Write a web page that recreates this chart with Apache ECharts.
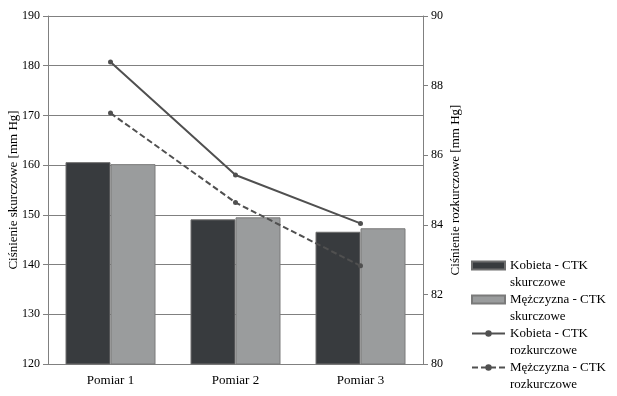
<!DOCTYPE html>
<html><head><meta charset="utf-8">
<script src="https://cdn.jsdelivr.net/npm/echarts@6/dist/echarts.min.js"></script>
<style>html,body{margin:0;padding:0;background:#fff}#c{width:617px;height:396px}</style>
</head><body><div id="c"></div>
<script>
const categories = ['Pomiar 1', 'Pomiar 2', 'Pomiar 3'];
const kobietaSkurcz = [160.6, 149.1, 146.6];
const mezczyznaSkurcz = [160.2, 149.5, 147.3];
const kobietaRozkurcz = [88.68, 85.43, 84.04];
const mezczyznaRozkurcz = [87.21, 84.64, 82.82];
const leftTicks = [120, 190, 10];
const rightTicks = [80, 90, 2];
const names = ['Kobieta - CTK\nskurczowe', 'Mężczyzna - CTK\nskurczowe', 'Kobieta - CTK\nrozkurczowe', 'Mężczyzna - CTK\nrozkurczowe'];

const F = 'Liberation Serif';
const chart = echarts.init(document.getElementById('c'), null, {renderer: 'canvas'});
chart.setOption({
  animation: false,
  textStyle: {fontFamily: F},
  grid: {left: 48, right: 194, top: 16, bottom: 32, containLabel: false, outerBoundsMode: 'none'},
  legend: {
    orient: 'vertical', left: 471, top: 240, padding: 0, itemWidth: 33, itemHeight: 8, itemGap: -17,
    formatter: n => '\n' + n,
    textStyle: {fontFamily: F, fontSize: 13, color: '#000', lineHeight: 17},
    data: [
      {name: names[0], icon: 'rect'}, {name: names[1], icon: 'rect'},
      {name: names[2]}, {name: names[3]}
    ]
  },
  xAxis: {
    type: 'category', data: categories,
    axisLine: {lineStyle: {color: '#808080'}},
    axisTick: {length: 5, lineStyle: {color: '#808080'}},
    axisLabel: {color: '#000', fontSize: 13, fontFamily: F, margin: 10}
  },
  yAxis: [{
    type: 'value', min: leftTicks[0], max: leftTicks[1], interval: leftTicks[2],
    name: 'Ciśnienie skurczowe [mm Hg]', nameLocation: 'middle', nameGap: 28, nameMoveOverlap: false,
    nameTextStyle: {color: '#000', fontSize: 13, fontFamily: F},
    axisLine: {show: true, lineStyle: {color: '#808080'}},
    axisTick: {show: true, length: 5, lineStyle: {color: '#808080'}},
    axisLabel: {color: '#000', fontSize: 12, fontFamily: F, margin: 8},
    splitLine: {lineStyle: {color: '#808080'}}
  }, {
    type: 'value', min: rightTicks[0], max: rightTicks[1], interval: rightTicks[2],
    name: 'Ciśnienie rozkurczowe [mm Hg]', nameLocation: 'middle', nameGap: 26, nameMoveOverlap: false,
    nameTextStyle: {color: '#000', fontSize: 13, fontFamily: F},
    axisLine: {show: true, lineStyle: {color: '#808080'}},
    axisTick: {show: true, length: 5, lineStyle: {color: '#808080'}},
    axisLabel: {color: '#000', fontSize: 12, fontFamily: F, margin: 8},
    splitLine: {show: false}
  }],
  series: [
    {name: names[0], type: 'bar', data: kobietaSkurcz, barGap: '0%', barCategoryGap: '28%',
     itemStyle: {color: '#383b3e', borderColor: '#6e6e6e', borderWidth: 1}},
    {name: names[1], type: 'bar', data: mezczyznaSkurcz,
     itemStyle: {color: '#9a9c9d', borderColor: '#7a7a7a', borderWidth: 1}},
    {name: names[2], type: 'line', yAxisIndex: 1, data: kobietaRozkurcz, symbol: 'circle', symbolSize: 5,
     lineStyle: {color: '#505050', width: 2}, itemStyle: {color: '#505050'}},
    {name: names[3], type: 'line', yAxisIndex: 1, data: mezczyznaRozkurcz, symbol: 'circle', symbolSize: 5,
     lineStyle: {color: '#505050', width: 2, type: [6, 3]}, itemStyle: {color: '#505050'}}
  ]
});
</script></body></html>
